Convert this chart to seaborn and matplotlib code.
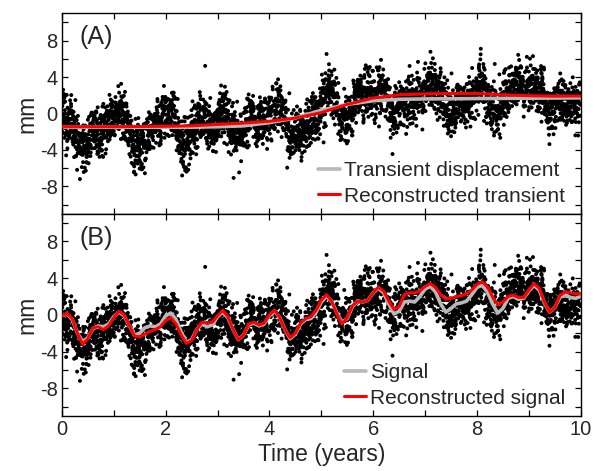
import numpy as np
import pandas as pd
import matplotlib
matplotlib.use("Agg")
import matplotlib.pyplot as plt
from matplotlib.ticker import MultipleLocator
import seaborn as sns

# ---------------- data ----------------
t_knots = np.round(np.arange(0, 10.01, 0.1), 1)

# Panel A: transient (grey) and reconstructed transient (red), at 0.5-yr steps
t_trans = np.arange(0, 10.01, 0.5)
transient_true = [-1.5, -1.5, -1.5, -1.5, -1.5, -1.5, -1.45, -1.35, -1.0, -0.5,
                  0.36, 1.0, 1.4, 1.56, 1.6, 1.62, 1.64, 1.66, 1.68, 1.7, 1.72]
transient_rec = [-1.45, -1.45, -1.45, -1.42, -1.4, -1.35, -1.2, -1.05, -0.85, -0.5,
                 0.1, 1.0, 1.7, 2.05, 2.15, 2.2, 2.2, 2.05, 1.95, 1.9, 1.92]

# Panel B: signal (grey) and reconstructed signal (red), at 0.1-yr steps
signal_true = [-0.1, 0.1, -0.5, -2.0, -2.9, -2.5, -1.5, -1.2, -1.3, -1.0,
               -0.2, 0.3, -0.1, -1.2, -2.2, -2.0, -1.4, -1.2, -1.3, -1.0,
               -0.1, 0.2, -0.5, -1.9, -3.0, -2.7, -1.6, -1.0, -1.3, -1.1,
               -0.2, 0.3, -0.3, -1.6, -2.7, -2.2, -1.1, -0.9, -1.2, -1.0,
               -0.1, 0.4, -0.3, -1.6, -2.6, -2.1, -1.0, -0.5, -0.4, 0.3,
               1.4, 2.0, 1.5, 0.2, -0.8, -0.4, 0.9, 1.5, 1.4, 1.6,
               2.4, 2.9, 2.4, 1.2, 0.1, 0.4, 1.4, 1.5, 1.4, 2.0,
               2.8, 3.1, 2.5, 1.2, 0.3, 0.7, 1.2, 1.3, 1.5, 2.2,
               3.0, 3.2, 2.5, 1.2, 0.2, 0.7, 1.8, 2.0, 1.7, 1.8,
               2.6, 3.2, 2.7, 1.3, 0.3, 0.8, 1.9, 2.2, 1.9, 1.8,
               2.0]
signal_rec = [-0.1, 0.15, -0.4, -2.0, -3.2, -2.6, -1.4, -1.3, -1.6, -1.2,
              -0.3, 0.4, 0.0, -1.2, -2.3, -2.4, -2.1, -1.8, -1.6, -1.3,
              -0.6, -0.3, -1.0, -2.2, -3.1, -2.8, -1.6, -0.8, -0.9, -0.8,
              -0.1, 0.5, -0.2, -1.6, -2.7, -2.2, -1.0, -0.8, -1.1, -0.9,
              0.0, 0.5, -0.3, -1.6, -2.5, -2.0, -0.9, -0.4, -0.2, 0.5,
              1.6, 2.2, 1.5, 0.1, -1.0, -0.3, 1.0, 1.5, 1.4, 1.6,
              2.4, 3.0, 2.6, 1.5, 0.6, 0.9, 2.2, 2.4, 2.4, 2.6,
              3.1, 3.4, 3.0, 2.2, 1.7, 1.8, 2.0, 2.1, 2.3, 2.7,
              3.3, 3.6, 3.1, 2.0, 1.1, 1.4, 2.0, 2.15, 1.9, 1.9,
              2.7, 3.4, 2.9, 1.4, 0.3, 0.8, 2.1, 2.5, 2.4, 2.3,
              2.3]

# Daily observations: individual points cannot be read from the picture, so a
# synthetic noise cloud (fixed seed) is laid around the grey signal as a stand-in.
t_obs = np.arange(0, 10, 1 / 365.0)
rng = np.random.default_rng(7)
ar = np.zeros(t_obs.size)
for i in range(1, t_obs.size):
    ar[i] = 0.98 * ar[i - 1] + rng.normal(0, 0.12)
obs = np.interp(t_obs, t_knots, signal_true) + ar + rng.normal(0, 1.35, t_obs.size)
df_obs = pd.DataFrame({"t": t_obs, "mm": obs})

legend_A = ["Transient displacement", "Reconstructed transient"]
legend_B = ["Signal", "Reconstructed signal"]
panel_labels = ["(A)", "(B)"]

# ---------------- styling ----------------
sns.set_theme(style="ticks")
plt.rcParams["font.family"] = ["Liberation Sans", "DejaVu Sans"]
plt.rcParams["axes.unicode_minus"] = False
plt.rcParams["xtick.direction"] = "in"
plt.rcParams["ytick.direction"] = "in"

fig = plt.figure(figsize=(5.95, 4.71), dpi=100)
axA = fig.add_axes([0.104, 0.546, 0.872, 0.426])
axB = fig.add_axes([0.104, 0.117, 0.872, 0.429], sharex=axA)

GREY = "#b8b8b8"
RED = "#ff0000"

def style(ax):
    ax.set_xlim(0, 10)
    ax.set_ylim(-11, 11)
    ax.xaxis.set_major_locator(MultipleLocator(2))
    ax.xaxis.set_minor_locator(MultipleLocator(1))
    ax.yaxis.set_major_locator(MultipleLocator(4))
    ax.yaxis.set_minor_locator(MultipleLocator(2))
    ax.tick_params(which="both", direction="in", top=True, right=True,
                   length=4, width=0.9, color="black", labelsize=14.5, pad=3)
    for s in ax.spines.values():
        s.set_color("black")
        s.set_linewidth(1.0)
    ax.set_ylabel("mm", fontsize=16.5, labelpad=1)

for ax, lab in zip([axA, axB], panel_labels):
    sns.scatterplot(data=df_obs, x="t", y="mm", ax=ax, s=8, color="black",
                    edgecolor="none", linewidth=0, legend=False, zorder=1)
    ax.text(0.033, 0.94, lab, transform=ax.transAxes, fontsize=18,
            va="top", ha="left")

sns.lineplot(x=t_trans, y=transient_true, ax=axA, color=GREY, lw=2.6,
             label=legend_A[0], zorder=2)
sns.lineplot(x=t_trans, y=transient_rec, ax=axA, color=RED, lw=2.2,
             label=legend_A[1], zorder=3)
sns.lineplot(x=t_knots, y=signal_true, ax=axB, color=GREY, lw=2.6,
             label=legend_B[0], zorder=2)
sns.lineplot(x=t_knots, y=signal_rec, ax=axB, color=RED, lw=2.2,
             label=legend_B[1], zorder=3)

for ax in (axA, axB):
    style(ax)
    ax.legend(loc="lower right", bbox_to_anchor=(0.986, 0.0), frameon=False,
              fontsize=15, handlelength=1.05, handletextpad=0.2,
              labelspacing=0.3, borderaxespad=0.0, borderpad=0.4)

axA.tick_params(labelbottom=False)
axA.set_xlabel("")
axB.set_xlabel("Time (years)", fontsize=16.5, labelpad=3)

fig.savefig("out.png", dpi=100)
